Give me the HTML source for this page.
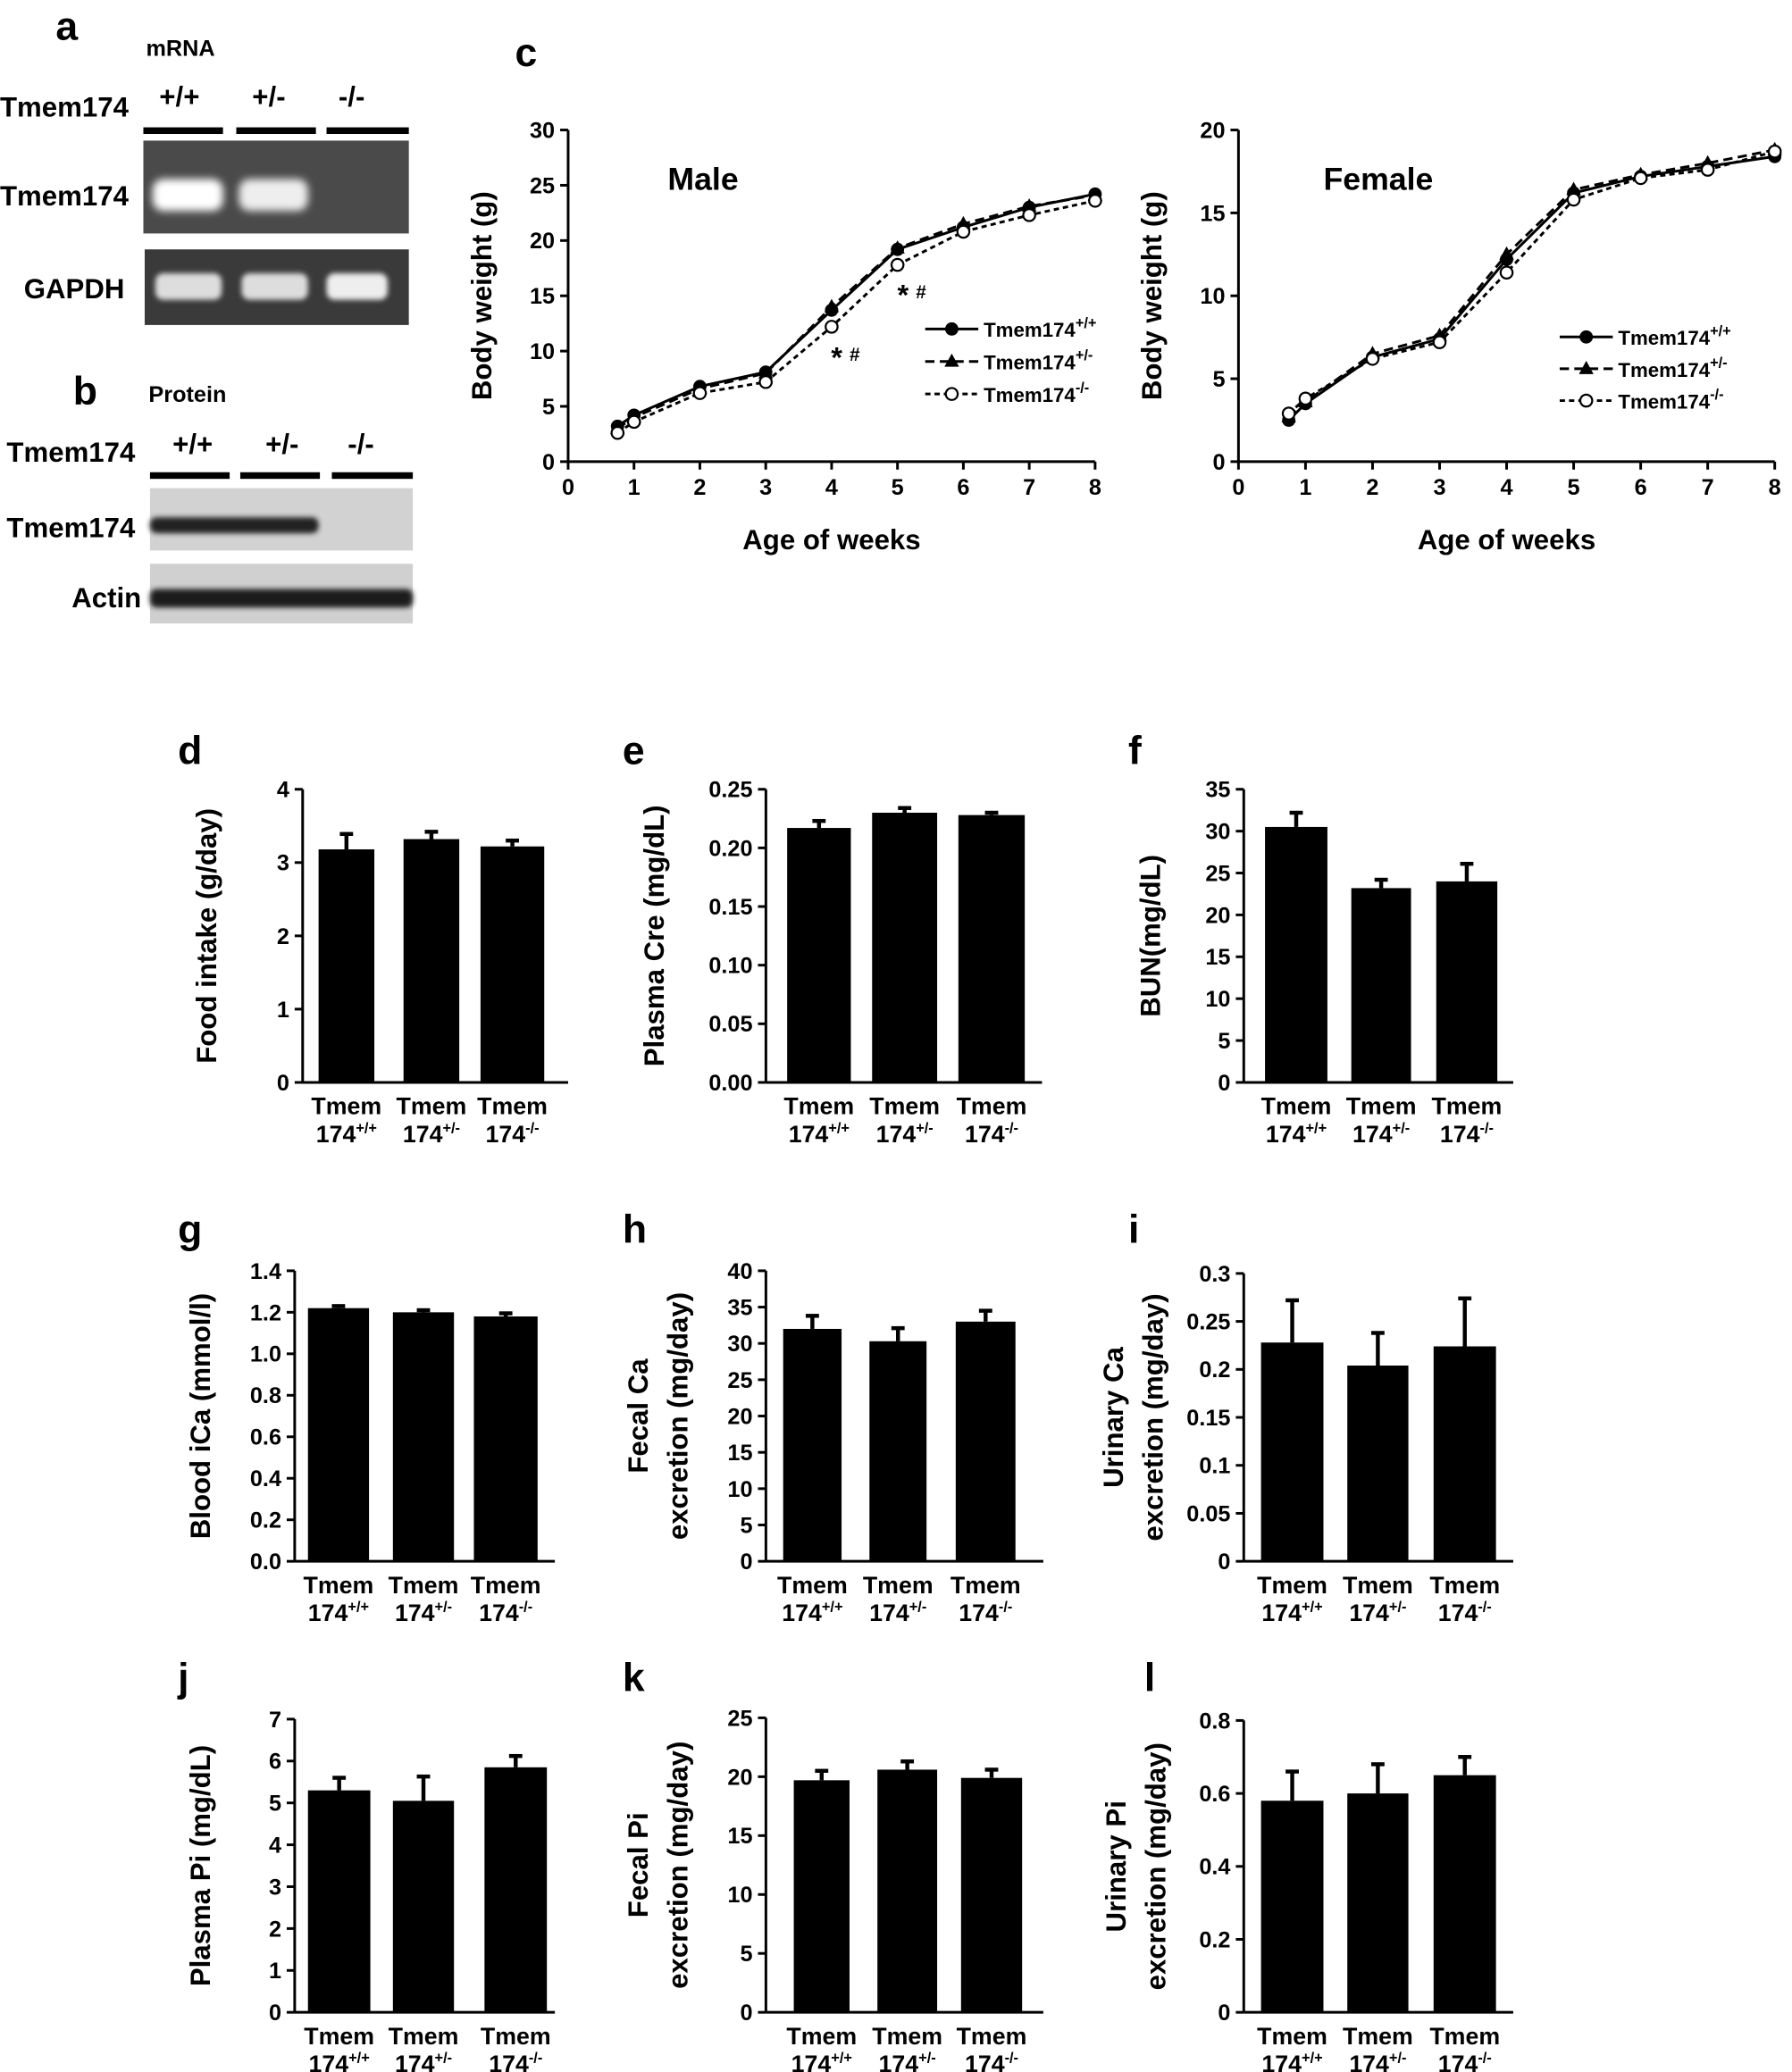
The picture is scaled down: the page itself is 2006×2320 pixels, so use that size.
<!DOCTYPE html>
<html><head><meta charset="utf-8"><style>
html,body{margin:0;padding:0;background:#fff}
svg{display:block}
text{font-family:"Liberation Sans",Arial,sans-serif;font-weight:bold;fill:#000}
</style></head><body>
<svg id="s" xmlns="http://www.w3.org/2000/svg" width="2006" height="2320" viewBox="0 0 1350 1562" preserveAspectRatio="none">
<defs>
<filter id="bl" x="-20%" y="-50%" width="140%" height="200%"><feGaussianBlur stdDeviation="3"/></filter>
<filter id="bl2" x="-20%" y="-50%" width="140%" height="200%"><feGaussianBlur stdDeviation="2"/></filter>
</defs>
<text x="42" y="30" font-size="30">a</text>
<text x="110" y="42" font-size="17">mRNA</text>
<text x="0" y="88" font-size="21">Tmem174</text>
<text x="120" y="80" font-size="21">+/+</text>
<text x="190" y="80" font-size="21">+/-</text>
<text x="255" y="80" font-size="21">-/-</text>
<rect x="108" y="96" width="60" height="5"/><rect x="178" y="96" width="60" height="5"/><rect x="246" y="96" width="62" height="5"/>
<text x="0" y="155" font-size="21">Tmem174</text>
<rect x="108" y="106" width="200" height="70" fill="#4a4a4a"/>
<rect x="115" y="135" width="53" height="24" rx="8" fill="#fff" filter="url(#bl)"/>
<rect x="180" y="135" width="52" height="24" rx="8" fill="#eee" filter="url(#bl)"/>
<text x="18" y="225" font-size="21">GAPDH</text>
<rect x="109" y="188" width="199" height="57" fill="#3a3a3a"/>
<rect x="117" y="206" width="50" height="20" rx="6" fill="#ddd" filter="url(#bl2)"/>
<rect x="182" y="206" width="50" height="20" rx="6" fill="#ddd" filter="url(#bl2)"/>
<rect x="246" y="206" width="46" height="20" rx="6" fill="#eee" filter="url(#bl2)"/>
<text x="55" y="305" font-size="30">b</text>
<text x="112" y="303" font-size="17">Protein</text>
<text x="5" y="348" font-size="21">Tmem174</text>
<text x="130" y="342" font-size="21">+/+</text>
<text x="200" y="342" font-size="21">+/-</text>
<text x="262" y="342" font-size="21">-/-</text>
<rect x="113" y="356" width="60" height="5"/><rect x="181" y="356" width="60" height="5"/><rect x="250" y="356" width="61" height="5"/>
<text x="5" y="405" font-size="21">Tmem174</text>
<rect x="113" y="368" width="198" height="47" fill="#d2d2d2"/>
<rect x="113" y="390" width="127" height="12" rx="5" fill="#222" filter="url(#bl2)"/>
<text x="54" y="458" font-size="21">Actin</text>
<rect x="113" y="425" width="198" height="45" fill="#d0d0d0"/>
<rect x="113" y="444" width="198" height="14" rx="5" fill="#1a1a1a" filter="url(#bl2)"/>
<g id="g"></g>
</svg>
<script>
var g=document.getElementById('g'),h='';
function T(x,y,s,fs,anc,extra){h+='<text x="'+x+'" y="'+y+'" font-size="'+fs+'" text-anchor="'+(anc||'start')+'" '+(extra||'')+'>'+s+'</text>';}
function L(x1,y1,x2,y2,w,d){h+='<line x1="'+x1+'" y1="'+y1+'" x2="'+x2+'" y2="'+y2+'" stroke="#000" stroke-width="'+(w||2)+'"'+(d?' stroke-dasharray="'+d+'"':'')+'/>';}
function sup(b,s){return b+'<tspan font-size="11" dy="-7">'+s+'</tspan>';}
function lc(x0,x1,yb,yt,ymax,ystep,letter,title,tx,data,legx,legy,legdy){
  if(letter)T(388,50,letter,30);
  L(x0,yt,x0,yb);L(x0,yb,x1,yb);
  for(var v=0;v<=ymax;v+=ystep){var y=yb-v*(yb-yt)/ymax;L(x0-6,y,x0,y);T(x0-10,y+6,v,17,'end');}
  for(var k=0;k<=8;k++){var x=x0+k*(x1-x0)/8;L(x,yb,x,yb+6);T(x,yb+25,k,17,'middle');}
  T(tx,143,title,24);
  T((x0+x1)/2,414,'Age of weeks',21,'middle');
  T(0,0,'Body weight (g)',21,'middle','transform="translate('+(x0-58)+','+((yt+yb)/2)+') rotate(-90)"');
  var wk=[0.75,1,2,3,4,5,6,7,8];
  var st=[['',null],['','7,4'],['','4,3']];
  data.forEach(function(d,i){
    var pts=wk.map(function(w,j){return [x0+w*(x1-x0)/8,yb-d[j]*(yb-yt)/ymax];});
    h+='<polyline fill="none" stroke="#000" stroke-width="2"'+(st[i][1]?' stroke-dasharray="'+st[i][1]+'"':'')+' points="'+pts.map(function(p){return p.join(',')}).join(' ')+'"/>';
    pts.forEach(function(p){
      if(i==0)h+='<circle cx="'+p[0]+'" cy="'+p[1]+'" r="5"/>';
      else if(i==1)h+='<polygon points="'+p[0]+','+(p[1]-6)+' '+(p[0]-5.5)+','+(p[1]+4)+' '+(p[0]+5.5)+','+(p[1]+4)+'"/>';
      else h+='<circle cx="'+p[0]+'" cy="'+p[1]+'" r="4.5" fill="#fff" stroke="#000" stroke-width="1.5"/>';
    });
    var ly=legy+i*legdy;
    L(legx,ly,legx+40,ly,2,st[i][1]);
    if(i==0)h+='<circle cx="'+(legx+20)+'" cy="'+ly+'" r="5"/>';
    else if(i==1)h+='<polygon points="'+(legx+20)+','+(ly-6)+' '+(legx+14.5)+','+(ly+4)+' '+(legx+25.5)+','+(ly+4)+'"/>';
    else h+='<circle cx="'+(legx+20)+'" cy="'+ly+'" r="4.5" fill="#fff" stroke="#000" stroke-width="1.5"/>';
    T(legx+44,ly+6,sup('Tmem174',['+/+','+/-','-/-'][i]),15);
  });
}
lc(428,825,348,98,30,5,'c','Male',503,[
 [3.2,4.2,6.8,8.1,13.7,19.2,21.2,23,24.2],
 [3.0,4.0,6.6,8.0,14.0,19.3,21.5,23.1,24.1],
 [2.6,3.6,6.2,7.2,12.2,17.8,20.8,22.3,23.6]],697,248,24.5);
T(676,230,'*',22);T(690,225,'#',14);T(626,277,'*',22);T(640,272,'#',14);
lc(933,1337,348,98,20,5,'','Female',997,[
 [2.5,3.5,6.3,7.4,12.2,16.2,17.2,17.8,18.4],
 [2.7,3.6,6.5,7.6,12.5,16.4,17.3,18.0,18.8],
 [2.9,3.8,6.2,7.2,11.4,15.8,17.1,17.6,18.7]],1175,254,24);
function bc(o){
  T(o.lx,o.ly,o.L,30);
  L(o.ax,o.yt,o.ax,o.yb);L(o.ax,o.yb,o.ax2,o.yb);
  o.ticks.forEach(function(t,i){var v=o.tv[i];var y=o.yb-v*(o.yb-o.yt)/o.max;L(o.ax-6,y,o.ax,y);T(o.ax-10,y+6,t,17,'end');});
  o.bars.forEach(function(b,i){
    var v=o.vals[i],e=o.err[i];var y=o.yb-v*(o.yb-o.yt)/o.max,ye=o.yb-(v+e)*(o.yb-o.yt)/o.max;
    L((b[0]+b[1])/2,y,(b[0]+b[1])/2,ye,3);L((b[0]+b[1])/2-5,ye,(b[0]+b[1])/2+5,ye,3);
    h+='<rect x="'+b[0]+'" y="'+y+'" width="'+(b[1]-b[0])+'" height="'+(o.yb-y)+'"/>';
    var cx=(b[0]+b[1])/2;
    T(cx,o.yb+24,'Tmem',18,'middle');
    T(cx,o.yb+45,sup('174',['+/+','+/-','-/-'][i]),18,'middle');
  });
  var cy=(o.yt+o.yb)/2;
  o.yl.forEach(function(s,i){T(0,0,s,21,'middle','transform="translate('+(o.ylx+i*30)+','+cy+') rotate(-90)"');});
}
function rng(a,b,s){var r=[];for(var v=a;v<=b+1e-9;v+=s)r.push(v);return r;}
function mk(L,lx,ly,ax,ax2,yt,yb,max,step,dec,bars,vals,err,yl,ylx,zero){
  var tv=rng(0,max,step);var ticks=tv.map(function(v){return dec==null?String(+v.toFixed(3)):v.toFixed(dec);});
  if(zero)ticks[0]='0';
  bc({L:L,lx:lx,ly:ly,ax:ax,ax2:ax2,yt:yt,yb:yb,max:max,tv:tv,ticks:ticks,bars:bars,vals:vals,err:err,yl:yl,ylx:ylx});
}
mk('d',134,576,228,428,595,816,4,1,null,[[240,282],[304,346],[362,410]],[3.18,3.32,3.22],[0.21,0.1,0.08],['Food intake (g/day)'],163);
mk('e',469,576,577,785,595,816,0.25,0.05,2,[[593,641],[657,706],[722,772]],[0.217,0.230,0.228],[0.006,0.004,0.002],['Plasma Cre (mg/dL)'],500);
mk('f',850,576,937,1140,595,816,35,5,null,[[953,1000],[1018,1063],[1082,1128]],[30.5,23.2,24],[1.7,1.0,2.1],['BUN(mg/dL)'],874);
mk('g',134,937,222,418,958,1177,1.4,0.2,1,[[232,278],[296,342],[357,405]],[1.22,1.2,1.18],[0.01,0.01,0.015],['Blood iCa (mmol/l)'],158);
mk('h',469,937,577,786,958,1177,40,5,null,[[590,634],[655,698],[720,765]],[32,30.3,33],[1.8,1.8,1.5],['Fecal Ca','excretion (mg/day)'],488);
mk('i',850,937,937,1140,960,1177,0.3,0.05,null,[[950,997],[1015,1061],[1080,1127]],[0.228,0.204,0.224],[0.044,0.034,0.05],['Urinary Ca','excretion (mg/day)'],846);
mk('j',134,1275,222,418,1296,1517,7,1,null,[[232,279],[296,342],[365,412]],[5.3,5.05,5.85],[0.3,0.58,0.27],['Plasma Pi (mg/dL)'],158);
mk('k',469,1275,577,786,1295,1517,25,5,null,[[598,640],[661,706],[724,770]],[19.7,20.6,19.9],[0.8,0.7,0.7],['Fecal Pi','excretion (mg/day)'],488);
mk('l',862,1275,937,1140,1297,1517,0.8,0.2,1,[[950,997],[1015,1061],[1080,1127]],[0.58,0.60,0.65],[0.08,0.08,0.05],['Urinary Pi','excretion (mg/day)'],848,true);
g.innerHTML=h;
</script>
</body></html>
